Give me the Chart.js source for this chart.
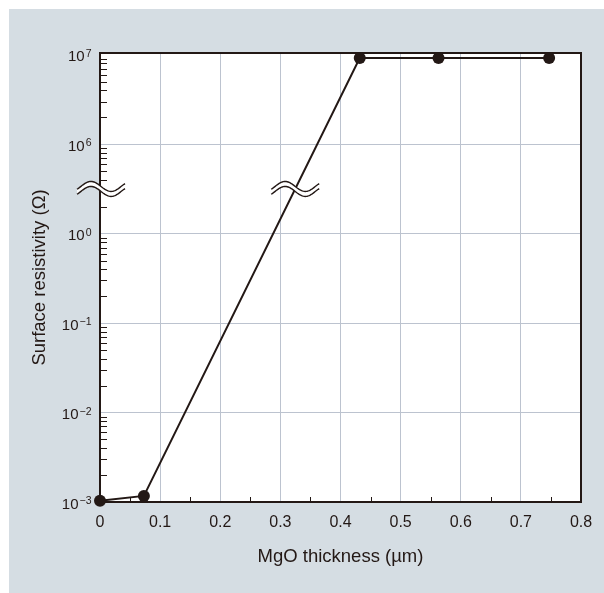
<!DOCTYPE html>
<html>
<head>
<meta charset="utf-8">
<script src="https://cdn.jsdelivr.net/npm/chart.js@4.4.1/dist/chart.umd.min.js"></script>
<style>
  html, body { margin: 0; padding: 0; background: #d5dde3; overflow: hidden; }
  #wrap { width: 604px; height: 593px; position: relative; }
  canvas { display: block; }
</style>
</head>
<body>
<div id="wrap"><canvas id="chart" width="604" height="593"></canvas></div>
<script>
// MgO thickness (µm) and measured surface resistivity (Ω)
const thickness = [0, 0.073, 0.432, 0.563, 0.747];
const resistivity = [1.03e-3, 1.17e-3, 9.2e6, 9.2e6, 9.2e6];

// Labelled decades on the broken logarithmic axis
const decadeExponents = [-3, -2, -1, 0, 6, 7];
const decadeExponentText = ['−3', '−2', '−1', '0', '6', '7'];

// X axis ticks
const xTickValues = [0, 0.1, 0.2, 0.3, 0.4, 0.5, 0.6, 0.7, 0.8];
const xMinorTicks = [0.05, 0.15, 0.25, 0.35, 0.45, 0.55, 0.65, 0.75];

const INK = '#231815';
const PANEL = '#d5dde3';
const GRID = '#bcc3cf';
const FONT = "'Liberation Sans', Arial, Helvetica, sans-serif";

// Broken log axis: 10^-3..10^0 and 10^6..10^7 are one unit per decade,
// the span 10^0..10^6 is squeezed into a single unit with the break at its middle.
function toAxis(v) {
  const L = Math.log10(v);
  if (L <= 0.5) return L + 3;
  if (L >= 5.5) return L - 2;
  return 3.5;
}
const BREAK_AXIS = 3.5;

// Minor log ticks (values in Ω)
const minorTickValues = [];
[-3, -2, -1].forEach(d => { for (let k = 2; k <= 9; k++) minorTickValues.push(k * Math.pow(10, d)); });
minorTickValues.push(2);                                   // above 10^0, below the break
for (let k = 4; k <= 9; k++) minorTickValues.push(k * 1e5); // below 10^6, above the break
for (let k = 2; k <= 9; k++) minorTickValues.push(k * 1e6);

function drawBreakMark(ctx, cx, cy) {
  const w = 48, amp = 5, gap = 5, n = 48;
  const th0 = -0.6, th1 = 2 * Math.PI + 0.6;
  const line = dy => {
    const pts = [];
    for (let i = 0; i <= n; i++) {
      const t = i / n;
      pts.push([cx - w / 2 + t * w, cy + dy - amp * Math.sin(th0 + t * (th1 - th0))]);
    }
    return pts;
  };
  const up = line(-gap / 2), lo = line(gap / 2);
  ctx.save();
  ctx.beginPath();
  up.forEach((p, i) => i ? ctx.lineTo(p[0], p[1]) : ctx.moveTo(p[0], p[1]));
  lo.slice().reverse().forEach(p => ctx.lineTo(p[0], p[1]));
  ctx.closePath();
  ctx.fillStyle = '#ffffff';
  ctx.fill();
  ctx.strokeStyle = INK;
  ctx.lineWidth = 1.4;
  [up, lo].forEach(pts => {
    ctx.beginPath();
    pts.forEach((p, i) => i ? ctx.lineTo(p[0], p[1]) : ctx.moveTo(p[0], p[1]));
    ctx.stroke();
  });
  ctx.restore();
}

const decorations = {
  id: 'decorations',
  beforeDraw(chart) {
    const { ctx, width, height, chartArea: a } = chart;
    ctx.save();
    ctx.fillStyle = '#ffffff';
    ctx.fillRect(0, 0, width, height);
    ctx.fillStyle = PANEL;
    ctx.fillRect(9, 9, width - 9, height - 9);
    ctx.fillStyle = '#ffffff';
    ctx.fillRect(a.left, a.top, a.right - a.left, a.bottom - a.top);
    ctx.restore();
  },
  afterDraw(chart) {
    // decade labels "10" with raised exponent
    const { ctx, scales: { y } } = chart;
    ctx.save();
    ctx.fillStyle = INK;
    ctx.textBaseline = 'alphabetic';
    decadeExponents.forEach((e, i) => {
      const py = y.getPixelForValue(toAxis(Math.pow(10, e)));
      const right = y.right - 8.5;
      ctx.font = '10.5px ' + FONT;
      const ew = ctx.measureText(decadeExponentText[i]).width;
      ctx.textAlign = 'left';
      ctx.fillText(decadeExponentText[i], right - ew, py + 2);
      ctx.font = '15px ' + FONT;
      ctx.textAlign = 'right';
      ctx.fillText('10', right - ew - 1, py + 6.5);
    });
    ctx.restore();
  },
  afterDatasetsDraw(chart) {
    const { ctx, chartArea: a, scales: { x, y } } = chart;
    ctx.save();
    ctx.strokeStyle = INK;
    ctx.lineWidth = 1;
    // minor ticks on the left axis
    minorTickValues.forEach(v => {
      const py = Math.round(y.getPixelForValue(toAxis(v))) + 0.5;
      ctx.beginPath();
      ctx.moveTo(a.left, py);
      ctx.lineTo(a.left + 7, py);
      ctx.stroke();
    });
    // minor ticks on the bottom axis
    xMinorTicks.forEach(v => {
      const px = Math.round(x.getPixelForValue(v)) + 0.5;
      ctx.beginPath();
      ctx.moveTo(px, a.bottom);
      ctx.lineTo(px, a.bottom - 5);
      ctx.stroke();
    });
    // top and right frame
    ctx.lineWidth = 2;
    ctx.beginPath();
    ctx.moveTo(a.left, a.top);
    ctx.lineTo(a.right, a.top);
    ctx.lineTo(a.right, a.bottom);
    ctx.stroke();
    ctx.restore();

    // axis break marks: on the y axis and where the curve crosses the break
    const by = y.getPixelForValue(BREAK_AXIS);
    drawBreakMark(ctx, a.left + 1, by);
    const meta = chart.getDatasetMeta(0).data;
    for (let i = 0; i < meta.length - 1; i++) {
      const p0 = meta[i], p1 = meta[i + 1];
      if ((p0.y - by) * (p1.y - by) < 0) {
        const t = (by - p0.y) / (p1.y - p0.y);
        drawBreakMark(ctx, p0.x + t * (p1.x - p0.x), by);
      }
    }
  }
};

new Chart(document.getElementById('chart'), {
  type: 'line',
  data: {
    datasets: [{
      data: thickness.map((t, i) => ({ x: t, y: toAxis(resistivity[i]) })),
      borderColor: INK,
      borderWidth: 2,
      backgroundColor: INK,
      pointBackgroundColor: INK,
      pointBorderColor: INK,
      pointRadius: 6,
      pointBorderWidth: 0,
      tension: 0,
      clip: false
    }]
  },
  options: {
    responsive: false,
    animation: false,
    events: [],
    layout: { padding: { left: 0, top: 53, right: 23, bottom: 0 } },
    plugins: { legend: { display: false }, tooltip: { enabled: false } },
    scales: {
      x: {
        type: 'linear',
        min: 0,
        max: 0.8,
        afterFit: s => { s.height = 91; },
        afterBuildTicks: s => { s.ticks = xTickValues.map(v => ({ value: v })); },
        ticks: {
          callback: v => (v === 0 ? '0' : v.toFixed(1)),
          color: INK,
          font: { family: FONT, size: 16 },
          padding: 11,
          maxRotation: 0
        },
        grid: {
          drawTicks: false,
          color: c => (c.tick && (c.tick.value === 0 || c.tick.value === 0.8) ? 'rgba(0,0,0,0)' : GRID),
          lineWidth: 1
        },
        border: { display: true, color: INK, width: 2 },
        title: {
          display: true,
          text: 'MgO thickness (µm)',
          color: INK,
          font: { family: FONT, size: 18.5 },
          padding: { top: 0, bottom: 25 }
        }
      },
      y: {
        type: 'linear',
        min: 0,
        max: 5.02,
        afterFit: s => { s.width = 100; },
        afterBuildTicks: s => { s.ticks = decadeExponents.map(e => ({ value: toAxis(Math.pow(10, e)) })); },
        ticks: {
          // decade labels are drawn with raised exponents by the plugin above
          callback: () => '',
          font: { family: FONT, size: 15 },
          padding: 8
        },
        grid: {
          drawTicks: false,
          color: c => (c.tick && (c.tick.value === 0 || c.tick.value === 5) ? 'rgba(0,0,0,0)' : GRID),
          lineWidth: 1
        },
        border: { display: true, color: INK, width: 2 },
        title: {
          display: true,
          text: 'Surface resistivity (Ω)',
          color: INK,
          font: { family: FONT, size: 18.5 },
          padding: { top: 29, bottom: 0 }
        }
      }
    }
  },
  plugins: [decorations]
});
</script>
</body>
</html>
